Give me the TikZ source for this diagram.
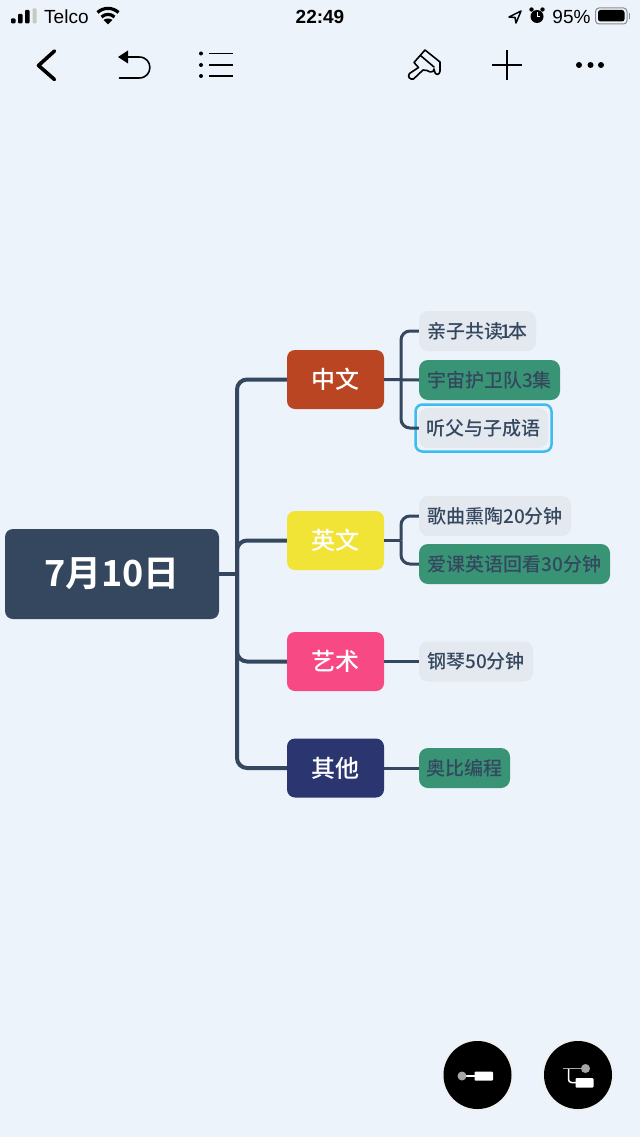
\documentclass[tikz,border=0pt]{standalone}
\usepackage{fontspec}
\usepackage{xcolor}
\newfontfamily\cjk{Noto Sans CJK SC}[UprightFont=* Medium]
\newfontfamily\cjkbf{Noto Sans CJK SC}[UprightFont=* Bold]
\newfontfamily\statusfont{Liberation Sans}
\definecolor{bgblue}{HTML}{EDF3FA}
\definecolor{slate}{HTML}{34475E}
\definecolor{rust}{HTML}{B94522}
\definecolor{sun}{HTML}{F2E337}
\definecolor{rose}{HTML}{F74A85}
\definecolor{navy}{HTML}{2B3670}
\definecolor{leafgrey}{HTML}{E4E9F0}
\definecolor{leafgreen}{HTML}{389475}
\definecolor{selcyan}{HTML}{3DBCF0}
\definecolor{midgrey}{HTML}{A6A6A6}
\tikzset{
	topic/.style = {rounded corners=8pt, inner sep=0pt, minimum width=97pt, minimum height=59pt, text=white, font=\cjk\fontsize{24}{28}\selectfont},
	leaf/.style = {rounded corners=9pt, inner sep=0pt, minimum height=40pt, text=slate, font=\cjk\fontsize{19}{23}\selectfont},
	statustext/.style = {inner sep=0pt, text=black, font=\statusfont\fontsize{19}{22}\selectfont},
	trunk/.style = {draw=slate, line width=4pt, rounded corners=10pt},
	twig/.style = {draw=slate, line width=3pt, rounded corners=9pt},
	icon/.style = {draw=black, line width=1.6pt, line cap=round, line join=round}
}
\begin{document}
\begin{tikzpicture}[x=1pt,y=-1pt]
	\fill[bgblue] (0,0) rectangle (640,1137);
	\useasboundingbox (0,0) rectangle (640,1137);
	% status bar
	\fill[black, rounded corners=1pt] (11,18.5) rectangle (15.5,23.5) (18,14) rectangle (22.5,23.5) (25,10) rectangle (29.5,23.5);
	\fill[black!22, rounded corners=1pt] (32.5,8.5) rectangle (36.5,23.5);
	\node[statustext, anchor=west] (carrier) at (44,16.5) {Telco};
	\draw[black, line width=3.2pt] (97.5,12.5) .. controls (103.5,7) and (112.5,7) .. (118.5,12.5);
	\draw[black, line width=3.2pt] (101.5,17) .. controls (105.5,13.5) and (110.5,13.5) .. (114.5,17);
	\fill[black] (108,24.5) -- (103.5,20) .. controls (106,18) and (110,18) .. (112.5,20) -- cycle;
	\node[statustext, font=\statusfont\bfseries\fontsize{19}{22}\selectfont] (clock) at (320,16.5) {22:49};
	\draw[black, line width=1.5pt, line join=round] (521,11) -- (509,17) -- (515,17.5) -- (516,23) -- cycle;
	\fill[black] (537,16.5) circle (6.5);
	\fill[black] (531.5,9.5) circle (2.2) (542.5,9.5) circle (2.2);
	\draw[white, line width=1pt] (537,12.5) -- (537,16.5) -- (540,16.5);
	\node[statustext] (battlevel) at (571.5,16.5) {95\%};
	\draw[black!45, line width=1pt, rounded corners=3.5pt] (595.5,8) rectangle (627,24);
	\fill[black, rounded corners=2.5pt] (598,10) rectangle (624.5,21.5);
	\fill[black!45] (628.5,13) rectangle (630,19);
	% tool bar
	\draw[icon, line width=3.6pt] (54.5,51) -- (38.5,65.5) -- (54.5,79.5);
	\fill[black] (118,57) -- (128,50.5) -- (128,63.5) -- cycle;
	\draw[icon] (127,57) -- (139,57) .. controls (153.5,57) and (153.5,78) .. (139,78) -- (119.5,78);
	\fill[black] (201,53.5) circle (2) (201,65) circle (2) (201,76) circle (2);
	\draw[icon, line cap=butt] (209,53.5) -- (233,53.5) (209,65) -- (233,65) (209,76) -- (233,76);
	\draw[icon] (409.5,73.5) -- (418.5,67.5) -- (414,62.5) -- (425,50) -- (440,62) -- (440,71) .. controls (440,75.5) and (434.5,75.5) .. (434.5,71) -- (434,69) -- (433,71.5) .. controls (431,72.5) and (429,72) .. (427,70.5) -- (423,70) -- (413.5,79) .. controls (410,80) and (407,76.5) .. (409.5,73.5);
	\draw[icon] (420.5,55.5) -- (434,67);
	\draw[icon, line cap=butt] (492,65) -- (522,65) (507,50) -- (507,80);
	\fill[black] (579,65) circle (3) (590.5,65) circle (3) (601,65) circle (3);
	% mind map
	\node[fill=slate, rounded corners=8pt, inner sep=0pt, minimum width=214pt, minimum height=90pt, text=white, font=\cjkbf\fontsize{36}{42}\selectfont] (root) at (112,574) {7月10日};
	\coordinate (hub) at (237,574);
	\node[topic, fill=rust] (chinese) at (335.5,379.5) {中文};
	\node[topic, fill=sun] (english) at (335.5,540.5) {英文};
	\node[topic, fill=rose] (arts) at (335.5,661.5) {艺术};
	\node[topic, fill=navy] (others) at (335.5,768) {其他};
	\node[leaf, fill=leafgrey, minimum width=117pt] (family) at (477.5,331) {亲子共读\kern-2.5pt 1\kern-2.5pt 本};
	\node[leaf, fill=leafgreen, minimum width=141pt] (cosmos) at (489.5,380) {宇宙护卫队3集};
	\node[rounded corners=7pt, draw=selcyan, line width=2.5pt, inner sep=0pt, minimum width=136pt, minimum height=47pt] (selected) at (483.5,428) {};
	\node[leaf, fill=leafgrey, minimum width=129pt] (idiom) at (483.5,428) {听父与子成语};
	\node[leaf, fill=leafgrey, minimum width=152pt] (songs) at (495,516) {歌曲熏陶20分钟};
	\node[leaf, fill=leafgreen, minimum width=191pt] (review) at (514.5,564) {爱课英语回看30分钟};
	\node[leaf, fill=leafgrey, minimum width=114pt] (piano) at (476,661.5) {钢琴50分钟};
	\node[leaf, fill=leafgreen, minimum width=91pt] (coding) at (464.5,768) {奥比编程};
	\draw[trunk] (root.east) -- (hub);
	\draw[trunk] (hub) |- (chinese.west);
	\draw[trunk] (hub) |- (english.west);
	\draw[trunk] (hub) |- (arts.west);
	\draw[trunk] (hub) |- (others.west);
	\coordinate (chinesehub) at (401,379.5);
	\coordinate (englishhub) at (401,540.5);
	\draw[twig] (chinese.east) -- (cosmos.west);
	\draw[twig] (chinesehub) |- (family.west);
	\draw[twig] (chinesehub) |- (idiom.west);
	\draw[twig] (english.east) -- (englishhub);
	\draw[twig] (englishhub) |- (songs.west);
	\draw[twig] (englishhub) |- (review.west);
	\draw[twig] (arts.east) -- (piano.west);
	\draw[twig] (others.east) -- (coding.west);
	% buttons
	\fill[black!6] (477.5,1075) circle (36) (578,1075) circle (36);
	\fill[black] (477.5,1075) circle (34) (578,1075) circle (34);
	\draw[white, line width=1.2pt] (462,1076) -- (476,1076);
	\fill[midgrey] (462,1076) circle (4.5);
	\fill[white, rounded corners=1pt] (474.5,1071.5) rectangle (493,1080.5);
	\draw[midgrey, line width=1.5pt] (563,1068.5) -- (585,1068.5);
	\fill[midgrey] (585.5,1068.5) circle (4.5);
	\draw[white, line width=1.5pt, rounded corners=3pt] (568.5,1069) -- (568.5,1082.5) -- (576,1082.5);
	\fill[white, rounded corners=1pt] (575.5,1078) rectangle (593.5,1087.5);
\end{tikzpicture}
\end{document}
